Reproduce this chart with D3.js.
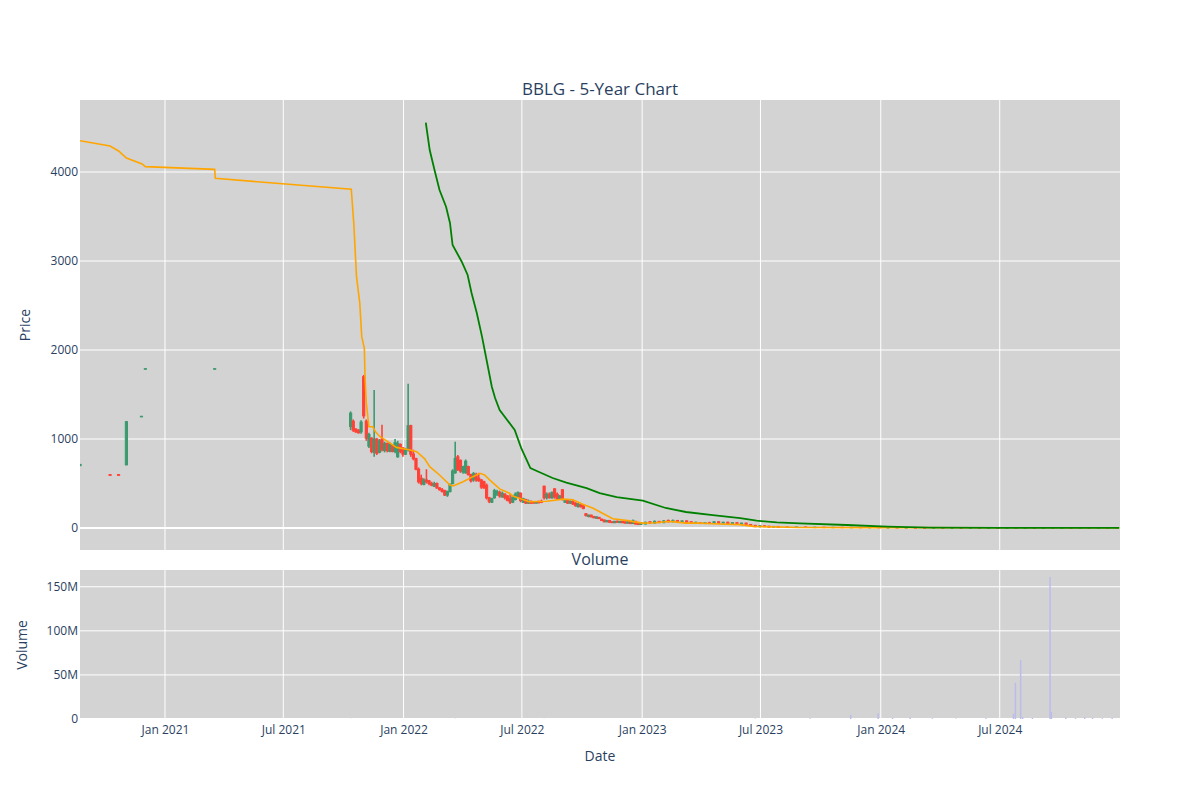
<!DOCTYPE html>
<html><head><meta charset="utf-8">
<script src="https://cdn.jsdelivr.net/npm/d3@7"></script>
<style>body{margin:0;background:#fff;} text{font-family:"Open Sans",verdana,arial,sans-serif;fill:#2a3f5f;}</style>
</head><body><svg id="c" width="1200" height="800"></svg>
<script>
// ---------- DATA ----------
const candleDates = [
"2020-08-24","2020-10-09","2020-10-22","2020-11-03","2020-11-26","2020-12-02","2021-03-18",
"2021-10-12","2021-10-16","2021-10-20","2021-10-24","2021-10-28","2021-11-01","2021-11-05","2021-11-09","2021-11-13","2021-11-17",
"2021-11-21","2021-11-25","2021-11-29","2021-12-03","2021-12-07","2021-12-11","2021-12-15","2021-12-19","2021-12-23","2021-12-27",
"2021-12-31","2022-01-04","2022-01-08","2022-01-12","2022-01-16","2022-01-20","2022-01-24","2022-01-28","2022-02-01","2022-02-05",
"2022-02-09","2022-02-13","2022-02-17","2022-02-21","2022-02-25","2022-03-01","2022-03-05","2022-03-09","2022-03-13","2022-03-17",
"2022-03-21","2022-03-25","2022-03-29","2022-04-02","2022-04-06","2022-04-10","2022-04-14","2022-04-18","2022-04-22","2022-04-26",
"2022-04-30","2022-05-04","2022-05-08","2022-05-12","2022-05-16","2022-05-20","2022-05-24","2022-05-28","2022-06-01","2022-06-05",
"2022-06-09","2022-06-13","2022-06-17","2022-06-21","2022-06-25","2022-06-29","2022-07-03","2022-07-07","2022-07-11","2022-07-15",
"2022-07-19","2022-07-23","2022-07-27","2022-07-31","2022-08-04","2022-08-08","2022-08-12","2022-08-16","2022-08-20","2022-08-24",
"2022-08-28","2022-09-01","2022-09-05","2022-09-09","2022-09-13","2022-09-17","2022-09-21","2022-09-25","2022-09-29","2022-10-03",
"2022-10-07","2022-10-11","2022-10-15","2022-10-19","2022-10-23","2022-10-27","2022-10-31","2022-11-04","2022-11-08","2022-11-12",
"2022-11-16","2022-11-20","2022-11-24","2022-11-28","2022-12-02","2022-12-06","2022-12-10","2022-12-14","2022-12-18","2022-12-22",
"2022-12-26","2022-12-30",
"2023-01-06","2023-01-13","2023-01-20","2023-01-27","2023-02-03","2023-02-10","2023-02-17","2023-02-24","2023-03-03","2023-03-10",
"2023-03-17","2023-03-24","2023-03-31","2023-04-07","2023-04-14","2023-04-21","2023-04-28","2023-05-05","2023-05-12","2023-05-19",
"2023-05-26","2023-06-02","2023-06-09","2023-06-16","2023-06-23","2023-06-30","2023-07-07","2023-07-14","2023-07-21","2023-07-28",
"2023-08-11","2023-08-25","2023-09-08","2023-09-22","2023-10-06","2023-10-20","2023-11-03","2023-11-17","2023-12-01","2023-12-15",
"2023-12-29","2024-01-12","2024-01-26","2024-02-09","2024-02-23","2024-03-08","2024-03-22","2024-04-05","2024-04-19","2024-05-03",
"2024-05-17","2024-05-31","2024-06-14","2024-06-28","2024-07-12","2024-07-26","2024-08-09","2024-08-23","2024-09-06","2024-09-20",
"2024-10-04","2024-10-18","2024-11-01","2024-11-15","2024-11-29","2024-12-13","2024-12-27"
];
const candleOpen = [
700,600,600,710,1250,1785,1785,
1140,1200,1110,1100,1080,1700,1200,920,1010,850,
1000,850,1000,870,950,860,930,860,800,940,
900,830,880,1150,830,780,660,560,490,540,
530,500,470,500,450,430,420,370,410,500,
620,800,760,630,620,690,600,540,600,560,
540,520,480,340,290,340,380,400,350,380,
360,330,290,320,350,390,290,320,280,300,
295,280,300,300,470,340,380,340,440,380,
330,430,290,310,280,300,280,240,260,250,
160,130,145,130,110,120,100,90,70,85,
70,60,75,60,75,65,55,70,50,75,
50,40,
45,70,55,75,60,85,70,85,65,80,
70,55,60,50,60,50,70,55,65,50,
60,45,55,40,30,15,25,20,10,18,
12,8,12,7,10,6,9,5,8,4,
7,3,5,3,4,3,2,3,2,3,
2,3,2,2.5,1.5,2.5,1.5,2,1.2,1.8,
0.8,1.2,0.8,1.2,0.7,1,0.6
];
const candleHigh = [
720,602,602,1200,1260,1795,1795,
1310,1220,1120,1110,1210,1720,1220,1070,1020,1550,
1010,1000,1160,970,960,960,940,1000,980,950,
910,900,1620,1160,880,790,680,600,560,660,
540,520,520,510,460,450,430,420,500,660,
970,820,770,700,770,700,610,630,620,620,
550,530,500,350,340,440,430,420,410,390,
370,380,370,400,410,400,340,330,320,310,
300,300,305,320,475,400,400,410,445,400,
370,435,320,320,310,310,290,280,270,260,
170,150,150,135,130,125,105,95,90,90,
75,80,85,80,80,90,75,80,95,80,
55,60,
70,75,85,80,90,95,95,90,85,85,
75,70,65,65,70,75,75,70,70,65,
65,60,60,45,35,30,30,25,20,20,
14,14,13,12,11,10,10,12,9,8,
8,6,6,5,5,4,4,4,3,3,
3,3,3,3,3,6,3,2.5,2,4,
1.5,1.5,1.5,1.4,1.2,1.2,1
];
const candleLow = [
698,590,590,705,1245,1780,1780,
1100,1080,1070,1060,1060,1230,980,900,840,800,
820,840,860,850,850,850,850,840,790,840,
800,820,860,800,760,650,500,480,480,500,
480,470,460,440,420,400,360,350,400,490,
610,640,620,610,610,590,510,520,520,520,
440,440,320,280,280,330,360,340,340,320,
300,270,280,310,340,290,280,270,270,270,
275,275,275,280,320,320,330,330,330,320,
320,310,280,270,270,260,240,230,230,210,
130,120,120,110,105,100,80,65,65,60,
55,55,60,55,55,50,50,45,45,40,
35,35,
40,50,50,55,55,65,65,65,60,60,
55,50,45,45,45,45,50,50,45,45,
40,40,35,25,10,10,10,8,8,5,
6,6,5,5,4,4,3,4,3,3,
2,2,2,2,2,1,1,1,1,1,
1,1,1,1,1,1,1,1,1,0.5,
0.5,0.5,0.5,0.5,0.5,0.4,0.4
];
const candleClose = [
715,592,592,1195,1255,1790,1790,
1290,1100,1080,1070,1190,1260,1010,1050,860,1000,
840,980,880,950,870,940,860,960,950,860,
830,880,1150,830,780,660,520,500,540,520,
500,480,500,450,430,410,370,410,490,640,
780,660,640,690,750,600,530,610,540,530,
460,450,340,300,330,420,410,360,390,340,
310,290,350,380,400,310,330,280,300,280,
280,295,285,290,340,380,340,400,350,330,
360,320,310,280,300,270,250,270,240,220,
140,145,125,115,125,105,85,70,85,65,
60,75,65,75,60,55,70,50,80,45,
40,55,
65,55,75,60,80,70,85,70,80,65,
60,65,50,60,50,70,55,65,50,60,
45,55,40,30,15,25,15,10,18,8,
8,12,7,10,6,9,5,8,4,7,
3,5,3,4,3,2,3,2,3,2,
3,2,2.5,1.5,2.5,1.5,2,1.2,1.8,0.8,
1.2,0.8,1.2,0.7,1,0.6,0.9
];

// moving averages (orange = short MA, green = long MA)
const maShortDates = ["2020-08-24","2020-10-09","2020-10-22","2020-11-03","2020-11-27","2020-12-02","2021-03-18","2021-03-19",
"2021-10-13","2021-10-17","2021-10-21","2021-10-26","2021-10-29","2021-11-02","2021-11-03","2021-11-05","2021-11-09","2021-11-15",
"2021-11-19","2021-11-26","2021-12-08","2021-12-21","2022-01-11","2022-01-21","2022-02-02","2022-02-10","2022-02-25","2022-03-13",
"2022-03-18","2022-04-02","2022-04-17","2022-04-28","2022-05-05","2022-05-13","2022-05-28","2022-06-12","2022-06-17","2022-06-27",
"2022-07-12","2022-08-08","2022-09-02","2022-09-17","2022-10-03","2022-10-18","2022-10-28","2022-11-17","2022-12-13","2022-12-18",
"2023-01-02","2023-01-22","2023-02-06","2023-02-16","2023-03-09","2023-03-30","2023-04-19","2023-05-31","2023-06-20","2023-08-30",
"2023-12-01","2024-07-02","2024-12-31"];
const maShortValues = [4352,4292,4236,4157,4090,4060,4030,3929,
3806,3404,2824,2527,2150,2019,1700,1404,1138,1138,
1082,1026,970,906,876,857,780,690,596,483,
472,520,577,614,596,539,440,390,360,335,
295,300,325,318,265,221,183,105,80,72,
55,60,70,72,55,55,48,38,18,6,
4,3,1];
const maLongDates = ["2022-02-04","2022-02-10","2022-02-18","2022-02-25","2022-03-07","2022-03-13","2022-03-17","2022-03-31",
"2022-04-09","2022-04-15","2022-04-23","2022-05-01","2022-05-08","2022-05-16","2022-05-21","2022-05-28","2022-06-20","2022-06-30",
"2022-07-14","2022-07-23","2022-08-17","2022-09-07","2022-10-08","2022-10-28","2022-11-23","2023-01-02","2023-02-06","2023-03-09",
"2023-04-19","2023-05-31","2023-06-25","2023-07-26","2023-08-30","2023-11-10","2024-01-11","2024-03-16","2024-07-02","2024-12-31"];
const maLongValues = [4554,4247,4003,3798,3610,3427,3180,2992,
2843,2640,2415,2150,1888,1588,1460,1326,1101,898,
674,644,562,509,449,393,348,307,225,180,
146,112,82,64,53,34,15,4,2,1];

const volumeDates = ["2021-10-13","2022-03-21","2022-08-04","2023-06-23","2023-09-15","2023-11-16","2023-12-28","2024-01-19",
"2024-02-15","2024-03-20","2024-04-25","2024-06-10","2024-07-22","2024-07-25","2024-08-02","2024-08-05","2024-08-20","2024-09-16",
"2024-09-18","2024-10-10","2024-10-25","2024-11-08","2024-11-20","2024-12-05","2024-12-20"];
const volumeValues = [0.2e6,0.3e6,0.2e6,0.5e6,0.8e6,4.5e6,6.5e6,1.2e6,
1.5e6,0.8e6,0.6e6,1.0e6,6.0e6,41e6,67e6,2.0e6,1.2e6,161e6,
8e6,1.5e6,1.0e6,1.8e6,1.2e6,0.9e6,1.1e6];

const priceTicks = [0,1000,2000,3000,4000];
const volumeTicks = [0,50e6,100e6,150e6];
const titleText = "BBLG - 5-Year Chart";

// ---------- CHART ----------
const parse = d3.utcParse("%Y-%m-%d");
const svg = d3.select("#c");
const L = 80, R = 1120, pT = 100, pB = 550, vT = 570, vB = 719;
const x = d3.scaleUtc().domain([parse("2020-08-24"), parse("2025-01-01")]).range([L, R]);
const y = d3.scaleLinear().domain([-247, 4809]).range([pB, pT]);
const yv = d3.scaleLinear().domain([0, 169e6]).range([vB, vT]);
const grid = "#ffffff";
const inc = "#3D9970", dec = "#FF4136";

svg.append("rect").attr("width",1200).attr("height",800).attr("fill","#fff");
svg.append("rect").attr("x",L).attr("y",pT).attr("width",R-L).attr("height",pB-pT).attr("fill","#d3d3d3");
svg.append("rect").attr("x",L).attr("y",vT).attr("width",R-L).attr("height",vB-vT).attr("fill","#d3d3d3");

const defs = svg.append("defs");
defs.append("clipPath").attr("id","cp").append("rect").attr("x",L).attr("y",pT).attr("width",R-L).attr("height",pB-pT);
defs.append("clipPath").attr("id","cv").append("rect").attr("x",L).attr("y",vT).attr("width",R-L).attr("height",vB-vT);

const xTicks = x.ticks(d3.utcMonth.every(6)).filter(d => d > x.domain()[0] && d < x.domain()[1]);
// vertical grid
[[pT,pB],[vT,vB]].forEach(([a,b]) => {
  svg.append("g").selectAll("line").data(xTicks).join("line")
    .attr("x1",d=>x(d)).attr("x2",d=>x(d)).attr("y1",a).attr("y2",b)
    .attr("stroke",grid).attr("stroke-width",1);
});
// horizontal grid
svg.append("g").selectAll("line").data(priceTicks).join("line")
  .attr("x1",L).attr("x2",R).attr("y1",d=>y(d)).attr("y2",d=>y(d))
  .attr("stroke",grid).attr("stroke-width",d=>d===0?2:1);
svg.append("g").selectAll("line").data(volumeTicks).join("line")
  .attr("x1",L).attr("x2",R).attr("y1",d=>yv(d)).attr("y2",d=>yv(d))
  .attr("stroke",grid).attr("stroke-width",d=>d===0?2:1);

// axes labels via d3 axes
const yAxis = d3.axisLeft(y).tickValues(priceTicks).tickSize(0).tickPadding(2).tickFormat(d3.format("d"));
svg.append("g").attr("transform",`translate(${L},0)`).call(yAxis)
  .call(g=>{g.select(".domain").remove(); g.selectAll("text").style("font-size","12px").attr("fill","#2a3f5f");});
const yvAxis = d3.axisLeft(yv).tickValues(volumeTicks).tickSize(0).tickPadding(2).tickFormat(d=>d===0?"0":d3.format("~s")(d));
svg.append("g").attr("transform",`translate(${L},0)`).call(yvAxis)
  .call(g=>{g.select(".domain").remove(); g.selectAll("text").style("font-size","12px").attr("fill","#2a3f5f");});
const xAxis = d3.axisBottom(x).tickValues(xTicks).tickSize(0).tickPadding(6).tickFormat(d3.utcFormat("%b %Y"));
svg.append("g").attr("transform",`translate(0,${vB})`).call(xAxis)
  .call(g=>{g.select(".domain").remove(); g.selectAll("text").style("font-size","12px").attr("fill","#2a3f5f");});

// candles
const candles = candleDates.map((d,i)=>({d:parse(d),o:candleOpen[i],h:candleHigh[i],l:candleLow[i],c:candleClose[i]}));
const cg = svg.append("g").attr("clip-path","url(#cp)");
const bw = 2.2;
cg.selectAll("line.w").data(candles).join("line")
  .attr("x1",d=>x(d.d)).attr("x2",d=>x(d.d)).attr("y1",d=>y(d.h)).attr("y2",d=>y(d.l))
  .attr("stroke",d=>d.c>=d.o?inc:dec).attr("stroke-width",1.6);
cg.selectAll("rect.b").data(candles).join("rect")
  .attr("x",d=>x(d.d)-bw/2).attr("width",bw)
  .attr("y",d=>y(Math.max(d.o,d.c))).attr("height",d=>Math.max(0.5,Math.abs(y(d.o)-y(d.c))))
  .attr("fill",d=>d.c>=d.o?inc:dec).attr("stroke",d=>d.c>=d.o?inc:dec).attr("stroke-width",1);

// MAs
const line = d3.line().x(d=>x(d[0])).y(d=>y(d[1]));
cg.append("path").datum(maShortDates.map((d,i)=>[parse(d),maShortValues[i]]))
  .attr("d",line).attr("fill","none").attr("stroke","orange").attr("stroke-width",1.6);
cg.append("path").datum(maLongDates.map((d,i)=>[parse(d),maLongValues[i]]))
  .attr("d",line).attr("fill","none").attr("stroke","green").attr("stroke-width",1.8);

// volume
svg.append("g").attr("clip-path","url(#cv)").selectAll("rect").data(volumeDates.map((d,i)=>({d:parse(d),v:volumeValues[i]}))).join("rect")
  .attr("x",d=>x(d.d)-0.75).attr("width",1.5).attr("y",d=>yv(d.v)).attr("height",d=>yv(0)-yv(d.v))
  .attr("fill","#bcbcec");

// titles
svg.append("text").attr("x",600).attr("y",95).attr("text-anchor","middle").style("font-size","17px").text(titleText);
svg.append("text").attr("x",600).attr("y",565).attr("text-anchor","middle").style("font-size","16px").text("Volume");
svg.append("text").attr("x",600).attr("y",761).attr("text-anchor","middle").style("font-size","14px").text("Date");
svg.append("text").attr("transform","translate(30,325) rotate(-90)").attr("text-anchor","middle").style("font-size","14px").text("Price");
svg.append("text").attr("transform","translate(27,645) rotate(-90)").attr("text-anchor","middle").style("font-size","14px").text("Volume");
</script></body></html>
